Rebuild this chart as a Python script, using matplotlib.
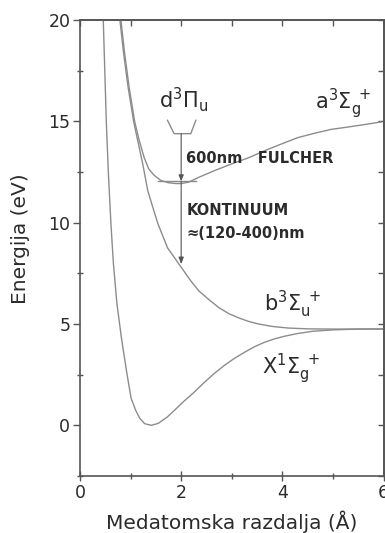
import matplotlib
matplotlib.use("Agg")
import matplotlib.pyplot as plt
from matplotlib.ticker import MultipleLocator

plt.rcParams["font.family"] = ["DejaVu Sans"]
plt.rcParams["mathtext.fontset"] = "dejavusans"

# potential curves (r in Å, E in eV)
x_r = [0.46, 0.49, 0.52, 0.56, 0.61, 0.66, 0.73, 0.82, 0.92, 1.01, 1.10, 1.18,
       1.28, 1.41, 1.55, 1.73, 1.90, 2.06, 2.25, 2.45, 2.65, 2.85, 3.05, 3.25,
       3.45, 3.65, 3.85, 4.05, 4.30, 4.60, 5.00, 5.50, 6.00]
x_e = [20.0, 17.5, 15.0, 12.5, 10.0, 8.0, 6.0, 4.3, 2.67, 1.34, 0.75, 0.35,
       0.08, 0.0, 0.1, 0.42, 0.82, 1.2, 1.62, 2.1, 2.55, 2.95, 3.3, 3.6,
       3.88, 4.1, 4.27, 4.4, 4.53, 4.64, 4.71, 4.75, 4.76]

b_r = [0.78, 0.86, 0.95, 1.06, 1.14, 1.24, 1.34, 1.44, 1.54, 1.73, 1.93, 2.19,
       2.35, 2.55, 2.75, 2.95, 3.14, 3.33, 3.53, 3.80, 4.12, 4.50, 5.00, 5.50, 6.00]
b_e = [20.2, 18.4, 16.7, 15.0, 14.06, 12.9, 11.58, 10.75, 9.95, 8.76, 8.05, 7.13,
       6.63, 6.2, 5.8, 5.5, 5.3, 5.13, 5.0, 4.88, 4.8, 4.76, 4.75, 4.75, 4.75]

a_r = [0.80, 0.88, 0.97, 1.08, 1.17, 1.27, 1.36, 1.46, 1.60, 1.75, 1.90, 2.00,
       2.15, 2.35, 2.69, 3.00, 3.33, 3.66, 4.00, 4.31, 4.65, 4.96, 5.30, 5.65, 5.95]
a_e = [20.2, 18.4, 16.7, 15.0, 14.06, 13.2, 12.65, 12.35, 12.08, 11.97, 11.93, 11.93,
       12.0, 12.24, 12.6, 12.9, 13.2, 13.56, 13.9, 14.2, 14.42, 14.6, 14.72, 14.85, 14.97]

# small d3Pi_u well and v=0 level of the a state
d_r = [1.73, 1.86, 2.19, 2.29]
d_e = [15.05, 14.39, 14.39, 15.05]
a_level_r = [1.55, 2.30]
a_level_e = [12.05, 12.05]

# transitions
trans_r = 2.0
fulcher_e = [14.39, 12.05]
cont_e = [12.05, 7.95]

line_c = "#8c8c8c"
text_c = "#2b2b2b"
axis_c = "#555555"

fig = plt.figure(figsize=(3.85, 5.33), dpi=100)
ax = fig.add_axes([80 / 385, 57 / 533, 303.5 / 385, 456 / 533])

for rr, ee in [(x_r, x_e), (b_r, b_e), (a_r, a_e), (d_r, d_e),
               (a_level_r, a_level_e)]:
    ax.plot(rr, ee, color=line_c, lw=1.0)

ax.annotate("", xy=(trans_r, fulcher_e[1]), xytext=(trans_r, fulcher_e[0]),
            arrowprops=dict(arrowstyle="-|>,head_length=0.35,head_width=0.15",
                            color=axis_c, lw=0.8, shrinkA=0, shrinkB=0))
ax.annotate("", xy=(trans_r, cont_e[1]), xytext=(trans_r, cont_e[0]),
            arrowprops=dict(arrowstyle="-|>,head_length=0.4,head_width=0.15",
                            color=axis_c, lw=0.8, shrinkA=0, shrinkB=0))

big = 15
ax.text(1.57, 15.7, r"$\mathregular{d^3Π_u}$", fontsize=big, color=text_c)
ax.text(4.65, 15.6, r"$\mathregular{a^3Σ_g^{\ +}}$", fontsize=big, color=text_c)
ax.text(3.63, 5.64, r"$\mathregular{b^3Σ_u^{\ +}}$", fontsize=big, color=text_c)
ax.text(3.59, 2.52, r"$\mathregular{X^1Σ_g^{\ +}}$", fontsize=big, color=text_c)

ax.text(2.1, 13.17, "600nm   FULCHER", fontsize=10.5, fontweight="bold",
        color=text_c, va="center")
ax.text(2.1, 10.6, "KONTINUUM", fontsize=10.5, fontweight="bold",
        color=text_c, va="center")
ax.text(2.1, 9.45, "≈(120-400)nm", fontsize=10.5, fontweight="bold",
        color=text_c, va="center")

ax.set_xlim(0, 6)
ax.set_ylim(-2.5, 20)
ax.xaxis.set_major_locator(MultipleLocator(2))
ax.xaxis.set_minor_locator(MultipleLocator(1))
ax.yaxis.set_major_locator(MultipleLocator(5))
ax.yaxis.set_minor_locator(MultipleLocator(2.5))

ax.tick_params(axis="x", which="major", direction="inout", length=7, width=1,
               color=axis_c, labelsize=12.5, labelcolor=text_c, pad=2)
ax.tick_params(axis="x", which="minor", direction="inout", length=4, width=1,
               color=axis_c)
ax.tick_params(axis="y", which="major", direction="out", length=5, width=1,
               color=axis_c, labelsize=12.5, labelcolor=text_c, pad=2)
ax.tick_params(axis="y", which="minor", direction="inout", length=4, width=1,
               color=axis_c)

top = ax.secondary_xaxis("top")
top.xaxis.set_major_locator(MultipleLocator(1))
top.tick_params(direction="in", length=4, width=1, color=axis_c,
                labeltop=False)
right = ax.secondary_yaxis("right")
right.yaxis.set_major_locator(MultipleLocator(2.5))
right.tick_params(direction="in", length=4, width=1, color=axis_c,
                  labelright=False)

for a in (ax, top, right):
    for s in a.spines.values():
        s.set_color(axis_c)
        s.set_linewidth(1.2)

ax.set_xlabel("Medatomska razdalja (Å)", fontsize=14.5, color=text_c)
ax.set_ylabel("Energija (eV)", fontsize=14.5, color=text_c, va="center")
ax.xaxis.set_label_coords(0.5, -0.075)
ax.yaxis.set_label_coords(-0.197, 0.52)

fig.savefig("out.png", dpi=100)
